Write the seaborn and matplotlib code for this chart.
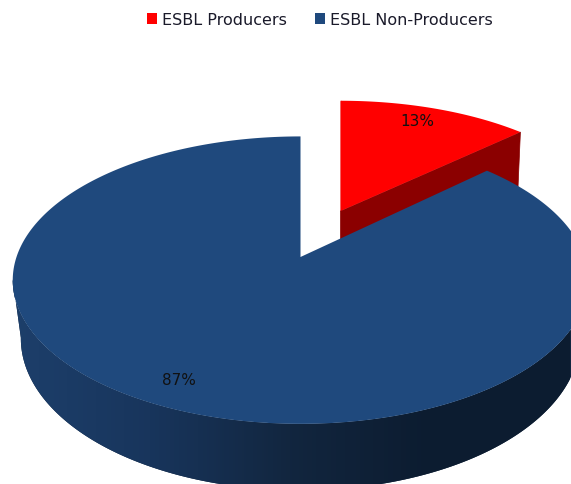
import numpy as np
import matplotlib
matplotlib.use("Agg")
import matplotlib.pyplot as plt
from matplotlib.colors import LinearSegmentedColormap
from matplotlib.patches import Patch, Polygon
import seaborn as sns

categories = ["ESBL Producers", "ESBL Non-Producers"]
shares = [13, 87]
face_colors = ["#ff0000", "#1f497d"]
red_wall = "#8b0000"
blue_wall_stops = ["#1d3f6b", "#18355c", "#12263f", "#0c1c30", "#0c1c30"]

sns.set_theme(style="white")
plt.rcParams["font.family"] = ["DejaVu Sans"]

# Perspective discs in canvas pixels: (cx, cy, half width, half height, depth factor)
main_top = (300.5, 258, 284, 140, 0.161)
main_bottom = (300.5, 315, 276, 148, 0.161)
slice_top = (340.5, 212, 274, 128, 0.161)
slice_bottom = (340.5, 275, 270, 132, 0.161)


def project(theta, radius, disc):
    """Map clockwise-from-north angles on a unit disc to canvas pixels."""
    cx, cy, a, b, k = disc
    px = radius * np.sin(theta)
    py = radius * np.cos(theta)
    w = 1 + k * py
    return cx + a * px / w, cy - b * py / w


fig = plt.figure(figsize=(5.71, 4.85), dpi=100)
ax = fig.add_axes([0, 0, 1, 1])

split = 2 * np.pi * shares[0] / sum(shares)

# Pulled-out slice: cut wall, then its top face
arc = np.linspace(0, split, 80)
tx, ty = project(arc, 1, slice_top)
bx, by = project(arc, 1, slice_bottom)
ax0x, ax0y = project(0.0, 0, slice_top)
ax1x, ax1y = project(0.0, 0, slice_bottom)
ax.fill([ax0x, tx[-1], bx[-1], ax1x], [ax0y, ty[-1], by[-1], ax1y],
        color=red_wall, lw=0.5, zorder=1)
ax.plot([ax0x, tx[0]], [ax0y, ty[0]], color=red_wall, lw=1.0, zorder=1)
ax.fill(np.r_[ax0x, tx], np.r_[ax0y, ty], color=face_colors[0], lw=0, zorder=2)

# Rim of the large slice: only the part facing the viewer, between the
# silhouette points of the disc, with a left-to-right shade clipped to it
front = np.linspace(np.radians(99), np.radians(261), 300)
fx, fy = project(front, 1, main_top)
gx, gy = project(front, 1, main_bottom)
outline = np.c_[np.r_[fx, gx[::-1]], np.r_[fy, gy[::-1]]]
rim = Polygon(outline, closed=True, facecolor="#12263f", edgecolor="none",
              zorder=3)
ax.add_patch(rim)
wall_cmap = LinearSegmentedColormap.from_list(
    "rim", sns.blend_palette(blue_wall_stops, n_colors=64))
shade = ax.imshow(np.linspace(0, 1, 560)[None, :], cmap=wall_cmap,
                  extent=(10, 570, 485, 100), aspect="auto", zorder=3.1)
shade.set_clip_path(rim)

# Top face of the large slice
arc = np.linspace(split, 2 * np.pi, 500)
tx, ty = project(arc, 1, main_top)
cx0, cy0 = project(0.0, 0, main_top)
ax.fill(np.r_[cx0, tx], np.r_[cy0, ty], color=face_colors[1], lw=0, zorder=4)

# Percentage labels
ax.text(417.5, 121, f"{shares[0]}%", ha="center", va="center",
        fontsize=11, color="#111111", zorder=5)
ax.text(179, 381, f"{shares[1]}%", ha="center", va="center",
        fontsize=11, color="#111111", zorder=5)

ax.set_xlim(0, 571)
ax.set_ylim(485, 0)
ax.axis("off")

handles = [Patch(facecolor=c, edgecolor="none", label=n)
           for c, n in zip(face_colors, categories)]
ax.legend(handles=handles, ncol=2, frameon=False, loc="center",
          bbox_to_anchor=(319.5 / 571, 1 - 20.5 / 485),
          fontsize=11.5, labelcolor="#1a1a2a",
          handlelength=0.63, handleheight=0.63, handletextpad=0.31,
          columnspacing=1.75, borderpad=0)

fig.savefig("out.png", dpi=100)
